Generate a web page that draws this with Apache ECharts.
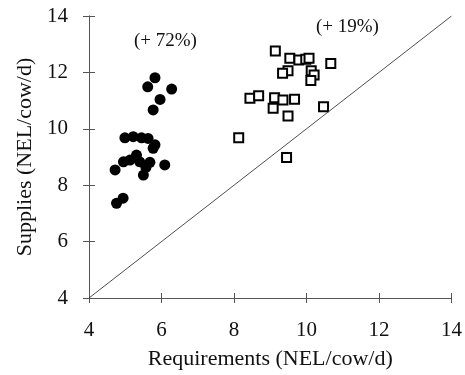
<!DOCTYPE html>
<html>
<head>
<meta charset="utf-8">
<script src="https://cdn.jsdelivr.net/npm/echarts@6/dist/echarts.min.js"></script>
<style>
  html, body { margin: 0; padding: 0; background: #fff; }
  #chart { width: 465px; height: 375px; }
</style>
</head>
<body>
<div id="chart"></div>
<script>
// Requirements vs supplies, NEL/cow/d
const filledPoints = [
  [5.82, 11.81], [5.62, 11.49], [6.28, 11.41], [5.96, 11.04], [5.77, 10.67],
  [4.99, 9.68], [5.22, 9.72], [5.45, 9.68], [5.63, 9.66], [5.82, 9.43],
  [5.77, 9.31], [5.31, 9.07], [5.13, 8.89], [4.95, 8.83], [4.72, 8.54],
  [5.40, 8.83], [5.68, 8.81], [6.09, 8.72], [5.50, 8.36], [5.57, 8.63],
  [4.76, 7.36], [4.94, 7.54]
]
const openPoints = [
  [9.14, 12.76], [9.54, 12.50], [9.79, 12.44], [9.98, 12.47], [10.07, 12.50],
  [10.67, 12.32], [9.49, 12.06], [9.34, 11.97], [10.13, 12.06], [10.21, 11.91],
  [10.12, 11.71], [8.44, 11.08], [8.68, 11.17], [9.12, 11.10], [9.35, 11.02],
  [9.67, 11.05], [9.08, 10.73], [9.49, 10.45], [10.47, 10.78], [8.13, 9.68],
  [9.45, 8.98]
]
const identityLine = [[4, 4], [14, 14]]
const tickValues = [4, 6, 8, 10, 12, 14]
const notes = ['(+ 72%)', '(+ 19%)']

const font = '"Liberation Serif", "DejaVu Serif", serif'
const axisColor = '#555'

const chart = echarts.init(document.getElementById('chart'))

const baseAxis = {
  type: 'value',
  min: 4,
  max: 14,
  interval: 2,
  splitLine: { show: false },
  axisLine: { show: true, lineStyle: { color: axisColor, width: 1 } }
}

chart.setOption({
  animation: false,
  grid: { left: 89, right: 13, top: 16, bottom: 77 },
  xAxis: [
    {
      ...baseAxis,
      name: 'Requirements (NEL/cow/d)',
      nameLocation: 'middle',
      nameGap: 50,
      nameTextStyle: { fontFamily: font, fontSize: 22, color: '#111' },
      axisTick: { show: true, inside: false, length: 5, lineStyle: { color: axisColor } },
      axisLabel: {
        fontFamily: font, fontSize: 21, color: '#111', margin: 22,
        formatter: v => tickValues.includes(v) ? String(v) : ''
      }
    },
    {
      ...baseAxis,
      position: 'bottom',
      axisTick: { show: true, inside: true, length: 5, lineStyle: { color: axisColor } },
      axisLabel: { show: false }
    }
  ],
  yAxis: [
    {
      ...baseAxis,
      name: 'Supplies (NEL/cow/d)',
      nameLocation: 'middle',
      nameGap: 43,
      nameRotate: 90,
      nameTextStyle: { fontFamily: font, fontSize: 22, color: '#111' },
      axisTick: { show: true, inside: false, length: 6, lineStyle: { color: axisColor } },
      axisLabel: {
        fontFamily: font, fontSize: 21, color: '#111', margin: 21,
        formatter: v => tickValues.includes(v) ? String(v) : ''
      }
    },
    {
      ...baseAxis,
      position: 'left',
      axisTick: { show: true, inside: true, length: 6, lineStyle: { color: axisColor } },
      axisLabel: { show: false }
    }
  ],
  series: [
    {
      type: 'line',
      data: identityLine,
      showSymbol: false,
      lineStyle: { color: '#222', width: 0.8 },
      silent: true
    },
    {
      type: 'scatter',
      data: openPoints,
      symbol: 'rect',
      symbolSize: 9,
      itemStyle: { color: '#fff', borderColor: '#000', borderWidth: 2, opacity: 1 }
    },
    {
      type: 'scatter',
      data: filledPoints,
      symbol: 'circle',
      symbolSize: 11,
      itemStyle: { color: '#000', opacity: 1 }
    }
  ],
  graphic: [
    {
      type: 'text', left: 134, top: 32,
      style: { text: notes[0], font: '19px ' + font, fill: '#111' }
    },
    {
      type: 'text', left: 316, top: 18,
      style: { text: notes[1], font: '19px ' + font, fill: '#111' }
    }
  ]
})
</script>
</body>
</html>
